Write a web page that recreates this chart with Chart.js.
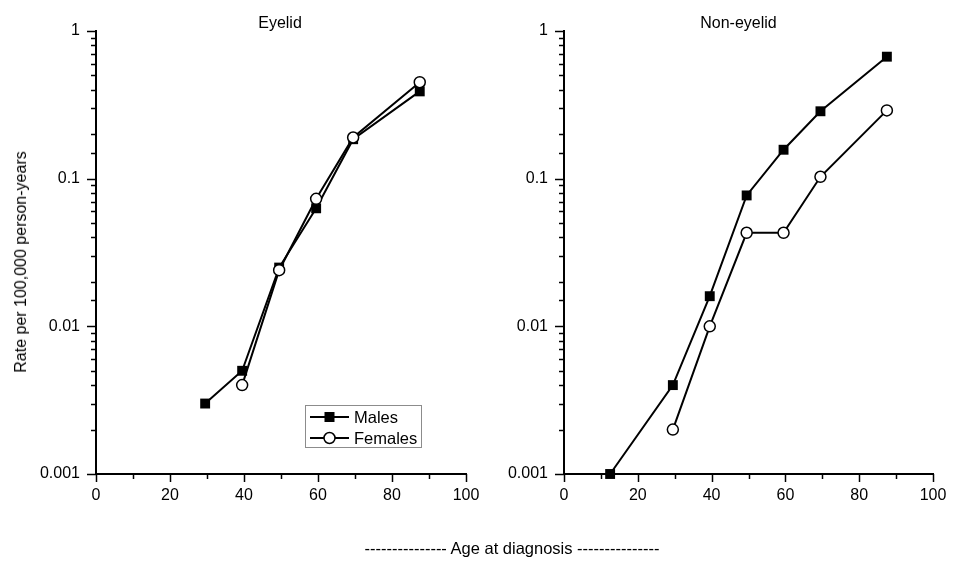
<!DOCTYPE html>
<html>
<head>
    <title>Rate by age at diagnosis</title>
    <script src="https://cdn.jsdelivr.net/npm/chart.js"></script>
    <style>
        body {
            margin: 0;
            background-color: #ffffff;
            font-family: "Liberation Sans", Arial, sans-serif;
            color: #000;
        }

        #page {
            position: relative;
            width: 960px;
            height: 567px;
            overflow: hidden;
        }

        .panel {
            position: absolute;
            top: 0;
            width: 480px;
            height: 567px;
        }

        #ytitle {
            position: absolute;
            left: 21px;
            top: 262px;
            transform: translate(-50%, -50%) rotate(-90deg);
            white-space: nowrap;
            font-size: 16px;
        }

        #xtitle {
            position: absolute;
            left: 512px;
            top: 548px;
            transform: translate(-50%, -50%);
            white-space: nowrap;
            font-size: 16.5px;
        }
    </style>
</head>
<body>
<div id="page">
    <div class="panel" style="left:0"><canvas id="eyelid" width="480" height="567"></canvas></div>
    <div class="panel" style="left:480px"><canvas id="noneyelid" width="480" height="567"></canvas></div>
    <div id="ytitle">Rate per 100,000 person-years</div>
    <div id="xtitle">--------------- Age at diagnosis ---------------</div>
</div>

<script>
    // age group midpoints (x) and rates per 100,000 person-years (y)
    const ages = [12.5, 29.5, 39.5, 49.5, 59.5, 69.5, 87.5];
    const eyelidMales = [null, 0.003, 0.005, 0.025, 0.063, 0.185, 0.39];
    const eyelidFemales = [null, null, 0.004, 0.024, 0.073, 0.19, 0.45];
    const nonEyelidMales = [0.001, 0.004, 0.016, 0.077, 0.157, 0.286, 0.67];
    const nonEyelidFemales = [null, 0.002, 0.01, 0.043, 0.043, 0.103, 0.29];

    const xTickLabels = [0, 20, 40, 60, 80, 100];
    const yTickLabels = ['0.001', '0.01', '0.1', '1'];

    Chart.defaults.font.family = '"Liberation Sans", Arial, sans-serif';
    Chart.defaults.font.size = 16;
    Chart.defaults.color = '#000';

    function toPoints(values) {
        const pts = [];
        values.forEach((v, i) => {
            if (v !== null) pts.push({ x: ages[i], y: v });
        });
        return pts;
    }

    function isDecade(v) {
        const l = Math.log10(v);
        return Math.abs(l - Math.round(l)) < 1e-9;
    }

    // tick marks: long for labelled ticks, short for the others
    const tickMarks = {
        id: 'tickMarks',
        afterDraw(chart) {
            const ctx = chart.ctx;
            const area = chart.chartArea;
            ctx.save();
            ctx.strokeStyle = '#000';
            ctx.lineWidth = 1.5;
            chart.scales.y.ticks.forEach(t => {
                const py = Math.round(chart.scales.y.getPixelForValue(t.value)) + 0.5;
                const len = isDecade(t.value) ? 9 : 5;
                ctx.beginPath();
                ctx.moveTo(area.left - len, py);
                ctx.lineTo(area.left, py);
                ctx.stroke();
            });
            chart.scales.x.ticks.forEach(t => {
                const px = Math.round(chart.scales.x.getPixelForValue(t.value)) + 0.5;
                const len = xTickLabels.includes(t.value) ? 8 : 5;
                ctx.beginPath();
                ctx.moveTo(px, area.bottom);
                ctx.lineTo(px, area.bottom + len);
                ctx.stroke();
            });
            ctx.restore();
        }
    };

    const panelTitle = {
        id: 'panelTitle',
        afterDraw(chart, args, opts) {
            const ctx = chart.ctx;
            ctx.save();
            ctx.font = '16px "Liberation Sans", Arial, sans-serif';
            ctx.fillStyle = '#000';
            ctx.textAlign = 'center';
            ctx.textBaseline = 'alphabetic';
            ctx.fillText(opts.text, opts.x, 28);
            ctx.restore();
        }
    };

    const boxLegend = {
        id: 'boxLegend',
        afterDraw(chart, args, opts) {
            if (!opts.show) return;
            const ctx = chart.ctx;
            ctx.save();
            ctx.strokeStyle = '#8c8c8c';
            ctx.lineWidth = 1;
            ctx.strokeRect(305.5, 405.5, 116, 42);
            ctx.font = '16.5px "Liberation Sans", Arial, sans-serif';
            ctx.textBaseline = 'middle';
            chart.data.datasets.forEach((ds, i) => {
                const y = 417 + i * 21;
                ctx.strokeStyle = '#000';
                ctx.lineWidth = 2;
                ctx.beginPath();
                ctx.moveTo(310, y);
                ctx.lineTo(349, y);
                ctx.stroke();
                ctx.beginPath();
                if (ds.pointStyle === 'rect') {
                    ctx.fillStyle = '#000';
                    ctx.fillRect(324.5, y - 5, 10, 10);
                } else {
                    ctx.fillStyle = '#fff';
                    ctx.lineWidth = 1.5;
                    ctx.arc(329.5, y, 5.5, 0, Math.PI * 2);
                    ctx.fill();
                    ctx.stroke();
                }
                ctx.fillStyle = '#000';
                ctx.fillText(ds.label, 354, y + 1);
            });
            ctx.restore();
        }
    };

    function makePanel(id, males, females, axisWidth, padRight, title, titleX, legend) {
        return new Chart(document.getElementById(id), {
            type: 'line',
            data: {
                datasets: [{
                    label: 'Males',
                    data: toPoints(males),
                    borderColor: '#000',
                    borderWidth: 2,
                    backgroundColor: '#000',
                    pointStyle: 'rect',
                    pointRadius: 7,
                    pointBorderWidth: 0,
                    pointBackgroundColor: '#000',
                    clip: false,
                    order: 2
                }, {
                    label: 'Females',
                    data: toPoints(females),
                    borderColor: '#000',
                    borderWidth: 2,
                    backgroundColor: '#fff',
                    pointStyle: 'circle',
                    pointRadius: 5.5,
                    pointBorderWidth: 1.5,
                    pointBorderColor: '#000',
                    pointBackgroundColor: '#fff',
                    clip: false,
                    order: 1
                }]
            },
            options: {
                responsive: false,
                animation: false,
                layout: {
                    padding: { left: 0, right: padRight, top: 31, bottom: 0 }
                },
                scales: {
                    x: {
                        type: 'linear',
                        min: 0,
                        max: 100,
                        border: { display: true, color: '#000', width: 2 },
                        grid: { drawOnChartArea: false, tickLength: 8, tickColor: 'rgba(0,0,0,0)' },
                        ticks: {
                            stepSize: 10,
                            autoSkip: false,
                            maxRotation: 0,
                            padding: 4,
                            callback: v => xTickLabels.includes(v) ? String(v) : ''
                        },
                        afterFit(scale) {
                            scale.height = 93;
                            scale.paddingLeft = 0;
                            scale.paddingRight = 0;
                        }
                    },
                    y: {
                        type: 'logarithmic',
                        min: 0.001,
                        max: 1,
                        border: { display: true, color: '#000', width: 2 },
                        grid: { drawOnChartArea: false, tickLength: 9, tickColor: 'rgba(0,0,0,0)' },
                        ticks: {
                            autoSkip: false,
                            padding: 7,
                            callback: v => isDecade(v) ? yTickLabels[Math.round(Math.log10(v)) + 3] : ''
                        },
                        afterFit(scale) {
                            scale.width = axisWidth;
                            scale.paddingTop = 0;
                            scale.paddingBottom = 0;
                        }
                    }
                },
                plugins: {
                    legend: { display: false },
                    tooltip: { enabled: false },
                    panelTitle: { text: title, x: titleX },
                    boxLegend: { show: legend }
                }
            },
            plugins: [tickMarks, panelTitle, boxLegend]
        });
    }

    makePanel('eyelid', eyelidMales, eyelidFemales, 96, 14, 'Eyelid', 280, true);
    makePanel('noneyelid', nonEyelidMales, nonEyelidFemales, 84, 27, 'Non-eyelid', 258.5, false);
</script>
</body>
</html>
